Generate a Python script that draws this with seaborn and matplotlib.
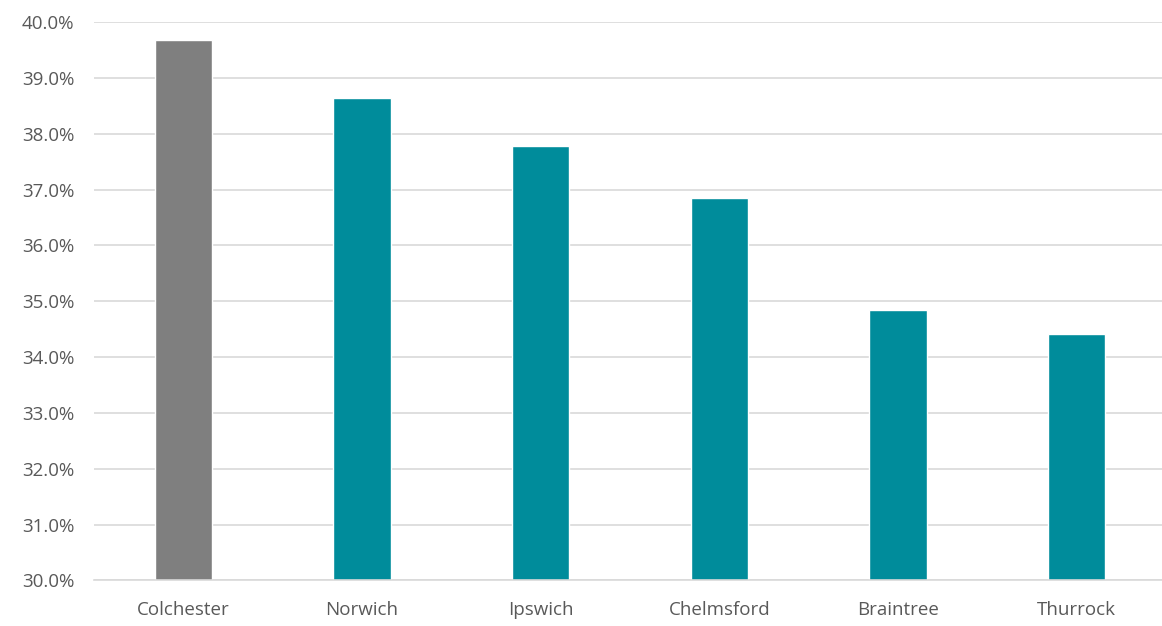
import matplotlib
matplotlib.use("Agg")
import matplotlib.pyplot as plt
import seaborn as sns
import pandas as pd
from matplotlib.ticker import FuncFormatter, MultipleLocator

categories = ["Colchester", "Norwich", "Ipswich", "Chelmsford", "Braintree", "Thurrock"]
values = [39.68, 38.64, 37.78, 36.85, 34.84, 34.41]
bar_colors = ["#7f7f7f", "#008c9b", "#008c9b", "#008c9b", "#008c9b", "#008c9b"]

df = pd.DataFrame({"town": categories, "share": values})

sns.set_theme(style="white")
plt.rcParams["font.family"] = ["Open Sans", "DejaVu Sans"]

fig = plt.figure(figsize=(11.62, 6.26), dpi=100)
ax = fig.add_axes([0.0809, 0.0727, 0.9226, 0.8922])

sns.barplot(data=df, x="town", y="share", hue="town", palette=bar_colors,
            width=0.32, legend=False, saturation=1, ax=ax)

ax.set_ylim(30, 40)
ax.yaxis.set_major_locator(MultipleLocator(1))
ax.yaxis.set_major_formatter(FuncFormatter(lambda v, _: f"{v:.1f}%"))
ax.set_xlim(-0.5, len(categories) - 0.5)

ax.grid(axis="y", color="#d9d9d9", linewidth=1.2)
ax.set_axisbelow(True)
for side in ["left", "right", "top"]:
    ax.spines[side].set_visible(False)
ax.spines["bottom"].set_color("#d9d9d9")
ax.spines["bottom"].set_linewidth(1.2)

ax.set_xlabel("")
ax.set_ylabel("")
ax.tick_params(axis="both", length=0, labelsize=13.5, labelcolor="#595959")
ax.tick_params(axis="x", pad=15)
ax.tick_params(axis="y", pad=14)

fig.savefig("out.png", dpi=100)
